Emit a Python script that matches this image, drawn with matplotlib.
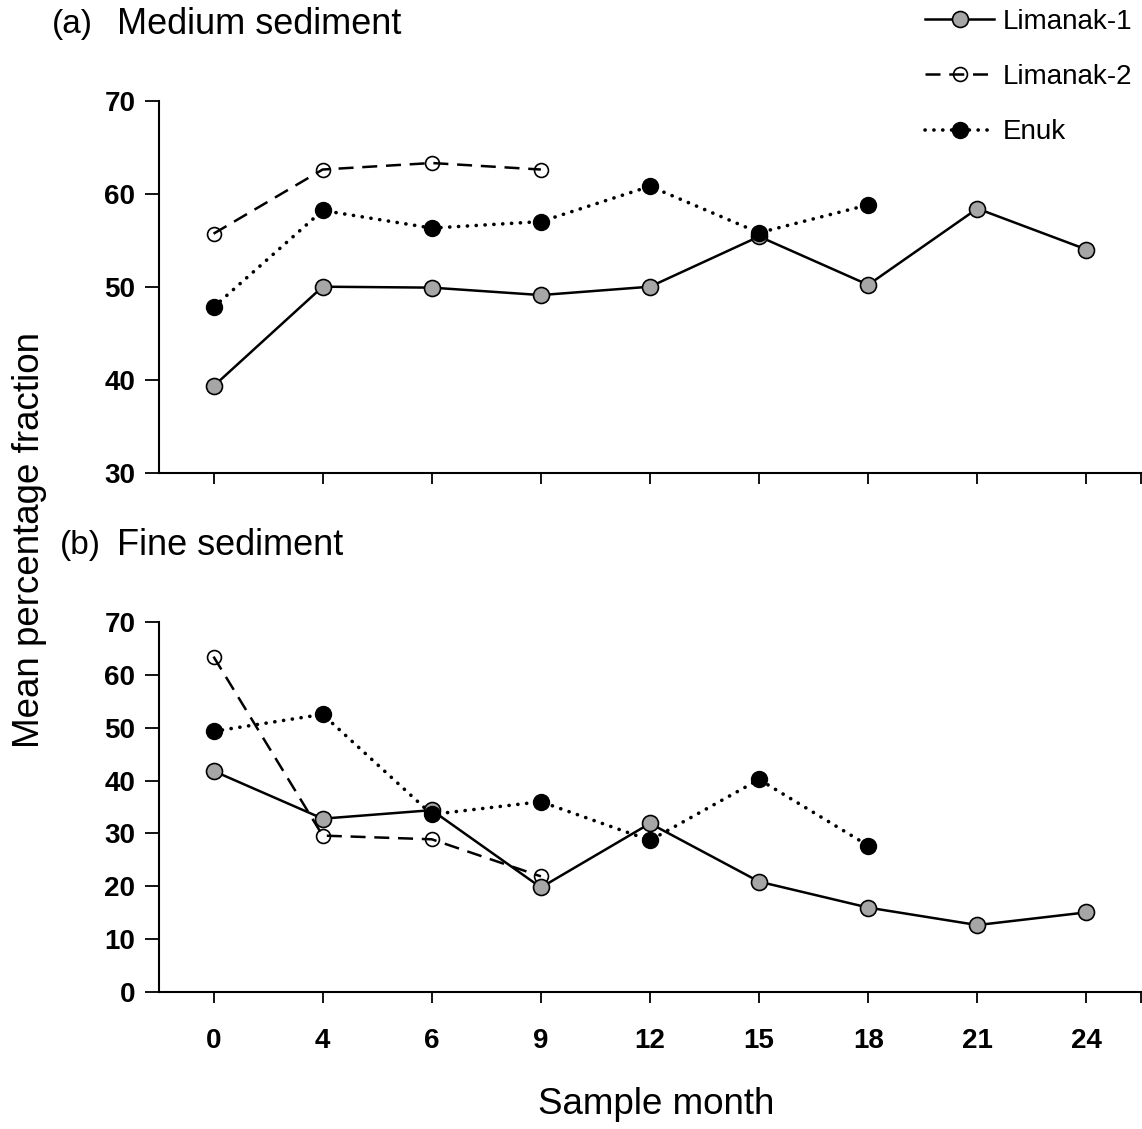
import matplotlib
matplotlib.use("Agg")
import matplotlib.pyplot as plt
from matplotlib.ticker import FixedLocator

# Sampling months (categorical axis)
months = ["0", "4", "6", "9", "12", "15", "18", "21", "24"]

# (a) Medium sediment
med_lim1 = [39.3, 50.0, 49.9, 49.1, 50.0, 55.4, 50.2, 58.4, 54.0]
med_lim2 = [55.7, 62.6, 63.3, 62.6]
med_enuk = [47.8, 58.2, 56.3, 57.0, 60.8, 55.8, 58.8]

# (b) Fine sediment
fine_lim1 = [41.8, 32.8, 34.4, 19.8, 31.9, 20.9, 16.0, 12.7, 15.1]
fine_lim2 = [63.4, 29.6, 28.9, 21.9]
fine_enuk = [49.3, 52.5, 33.6, 36.0, 28.7, 40.2, 27.7]

series_names = ["Limanak-1", "Limanak-2", "Enuk"]

plt.rcParams["font.family"] = ["Liberation Sans", "DejaVu Sans"]

W, H = 1142, 1129
fig = plt.figure(figsize=(W / 100, H / 100), dpi=100)

def fx(px):
    return px / W

def fy(py):
    return 1 - py / H

ax_top = fig.add_axes([fx(159), fy(472.7), fx(1141) - fx(159), fy(100.7) - fy(472.7)])
ax_bot = fig.add_axes([fx(159), fy(992.3), fx(1141) - fx(159), fy(621.7) - fy(992.3)])

styles = {
    "Limanak-1": dict(color="black", lw=1.8, ls="-", marker="o", ms=11.5,
                      mfc="#a6a6a6", mec="black", mew=1.2, zorder=3),
    "Limanak-2": dict(color="black", lw=1.8, ls=(0, (6, 3.5)), marker="o", ms=10,
                      mfc="none", mec="black", mew=1.2, zorder=2),
    "Enuk": dict(color="black", lw=2.6, ls=(0, (0.05, 2.4)), marker="o", ms=11.5,
                 mfc="black", mec="black", mew=1.0, zorder=4,
                 dash_capstyle="round"),
}

def draw(ax, lim1, lim2, enuk):
    handles = []
    for name, vals in zip(series_names, [lim1, lim2, enuk]):
        x = list(range(len(vals)))
        h, = ax.plot(x, vals, label=name, clip_on=False, **styles[name])
        handles.append(h)
    ax.set_xlim(-0.5, 8.5)
    ax.set_xticks(range(len(months)))
    ax.xaxis.set_minor_locator(FixedLocator([8.5]))
    for s in ["top", "right"]:
        ax.spines[s].set_visible(False)
    for s in ["left", "bottom"]:
        ax.spines[s].set_linewidth(1.5)
    ax.tick_params(axis="both", which="both", direction="out", width=1.3,
                   labelsize=20, length=8)
    ax.tick_params(axis="y", length=10, pad=7)
    return handles

handles = draw(ax_top, med_lim1, med_lim2, med_enuk)
ax_top.set_ylim(30, 70)
ax_top.set_yticks(range(30, 71, 10))
ax_top.set_xticklabels([])
for lab in ax_top.get_yticklabels():
    lab.set_fontweight("bold")

draw(ax_bot, fine_lim1, fine_lim2, fine_enuk)
ax_bot.set_ylim(0, 70)
ax_bot.set_yticks(range(0, 71, 10))
ax_bot.set_xticklabels(months)
ax_bot.tick_params(axis="x", pad=18)
for lab in ax_bot.get_yticklabels() + ax_bot.get_xticklabels():
    lab.set_fontweight("bold")

# Panel titles
fig.text(fx(52), fy(25), "(a)", fontsize=24, va="center", ha="left")
fig.text(fx(117), fy(25), "Medium sediment", fontsize=26, va="center", ha="left")
fig.text(fx(60), fy(545), "(b)", fontsize=24, va="center", ha="left")
fig.text(fx(117), fy(545), "Fine sediment", fontsize=26, va="center", ha="left")

# Axis titles
fig.text(fx(30), fy(540), "Mean percentage fraction", fontsize=26.5,
         rotation=90, va="center", ha="center")
fig.text(fx(656), fy(1105), "Sample month", fontsize=26.5, va="center", ha="center")

fig.legend(handles=handles, labels=series_names, loc="upper left",
           bbox_to_anchor=(fx(925), fy(9)), frameon=False, fontsize=20,
           handlelength=2.5, handletextpad=0.3, labelspacing=1.05,
           borderpad=0, borderaxespad=0, numpoints=1)

fig.savefig("out.png", dpi=100)
